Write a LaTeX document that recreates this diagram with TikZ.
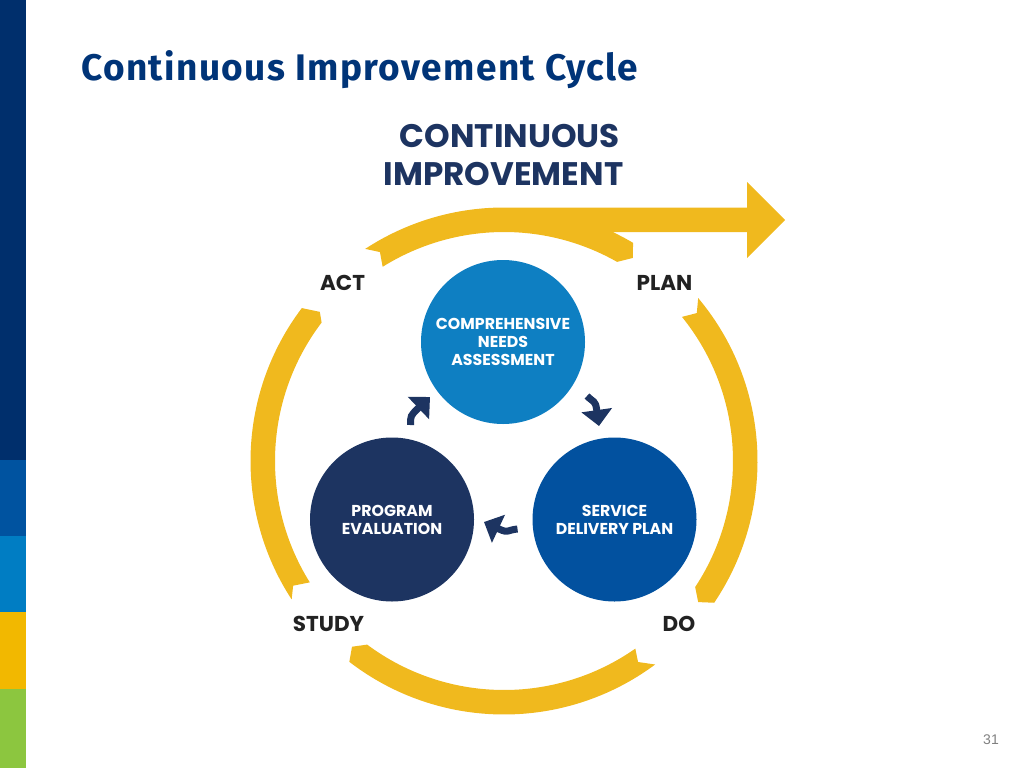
\documentclass[tikz,border=0pt]{standalone}
\usepackage{fontspec}
\usepackage{xcolor}
\usetikzlibrary{arrows.meta, calc}
\setmainfont{Poppins}
\newfontfamily\titlefont[LetterSpace=3.8]{Fira Sans}
\newfontfamily\pagefont{Liberation Sans}
\definecolor{navybar}{HTML}{002F6C}
\definecolor{bluebar}{HTML}{0053A0}
\definecolor{skybar}{HTML}{007DC3}
\definecolor{goldbar}{HTML}{F2B800}
\definecolor{greenbar}{HTML}{8CC63F}
\definecolor{ringgold}{HTML}{F0B91E}
\definecolor{needsblue}{HTML}{0E7FC2}
\definecolor{serviceblue}{HTML}{02519F}
\definecolor{evalnavy}{HTML}{1D3461}
\definecolor{titleblue}{HTML}{003478}
\definecolor{labelblack}{HTML}{222222}
\tikzset{
	stage/.style={circle, minimum size=164pt, inner sep=0pt, align=center, text=white,
		font=\bfseries\fontsize{15.8}{18}\selectfont},
	phase/.style={text=labelblack, inner sep=0pt, font=\bfseries\fontsize{21.5}{24}\selectfont},
	headline/.style={text=evalnavy, inner sep=0pt, font=\bfseries\fontsize{32.6}{36}\selectfont},
	turn/.style={draw=evalnavy, line width=7pt, looseness=1.4,
		-{Triangle[length=16pt, width=30pt, fill=evalnavy]}},
}
\begin{document}
\begin{tikzpicture}[x=1pt, y=1pt]
	\useasboundingbox (0,0) rectangle (1024,-768);
	\fill[navybar] (0,0) rectangle (26,-460);
	\fill[bluebar] (0,-460) rectangle (26,-536);
	\fill[skybar] (0,-536) rectangle (26,-612);
	\fill[goldbar] (0,-612) rectangle (26,-689);
	\fill[greenbar] (0,-689) rectangle (26,-768);
	\node (title) at (81,-81) [anchor=base west, inner sep=0pt, text=titleblue] {\titlefont\bfseries\fontsize{37}{40}\selectfont Continuous Improvement Cycle};
	\node (head1) at (510,-136) [headline] {CONTINUOUS};
	\node (head2) at (503.5,-174) [headline] {IMPROVEMENT};
	\begin{scope}[shift={(504,-461)}]
		\fill[ringgold] (123.2:253.5) arc[start angle=123.2, end angle=90, radius=253.5]
			-- (243,253.5) -- (243,279) -- (281,241) -- (243,203) -- (243,229) -- (64.6:253.5)
			arc[start angle=64.6, end angle=59.4, radius=253.5] -- (57.6:240.5) -- (60.4:229)
			arc[start angle=60.4, end angle=122, radius=229] -- (120.7:243) -- cycle;
		\fill[ringgold] (40:253.5) arc[start angle=40, end angle=-34, radius=253.5]
			-- (-36:240) -- (-33.4:229) arc[start angle=-33.4, end angle=39, radius=229]
			-- (37.5:243) -- cycle;
		\fill[ringgold] (306.6:253.5) arc[start angle=306.6, end angle=232.4, radius=253.5]
			-- (230.7:240) -- (233.3:229) arc[start angle=233.3, end angle=305, radius=229]
			-- (303.7:241.6) -- cycle;
		\fill[ringgold] (213.1:253.5) arc[start angle=213.1, end angle=142.9, radius=253.5]
			-- (141:237) -- (142.8:229) arc[start angle=142.8, end angle=212, radius=229]
			-- (210.6:245) -- cycle;
	\end{scope}
	\node (act) at (342.5,-282.5) [phase] {ACT};
	\node (plan) at (664.5,-282.5) [phase] {PLAN};
	\node (study) at (328.5,-624) [phase] {STUDY};
	\node (do) at (679,-624) [phase] {DO};
	\node (needs) at (503,-342) [stage, fill=needsblue] {COMPREHENSIVE\\NEEDS\\ASSESSMENT};
	\node (service) at (614.5,-519.5) [stage, fill=serviceblue] {SERVICE\\DELIVERY PLAN};
	\node (eval) at (392,-519.5) [stage, fill=evalnavy] {PROGRAM\\EVALUATION};
	\coordinate (n1) at (587,-396);
	\coordinate (n2) at (596.6,-409.2);
	\coordinate (n3) at (599,-426);
	\coordinate (s1) at (517.5,-529);
	\coordinate (s2) at (499.4,-529.2);
	\coordinate (s3) at (484,-522);
	\coordinate (e1) at (410.5,-425);
	\coordinate (e2) at (417.7,-408.7);
	\coordinate (e3) at (430,-397);
	\draw[turn] (n1) to[out=-45, in=98] (n2) -- (n3);
	\draw[turn] (s1) to[out=185, in=-25] (s2) -- (s3);
	\draw[turn] (e1) to[out=90, in=225] (e2) -- (e3);
	\node (page) at (991,-740) [text=black!50, inner sep=0pt] {\pagefont\fontsize{14}{15}\selectfont 31};
\end{tikzpicture}
\end{document}
